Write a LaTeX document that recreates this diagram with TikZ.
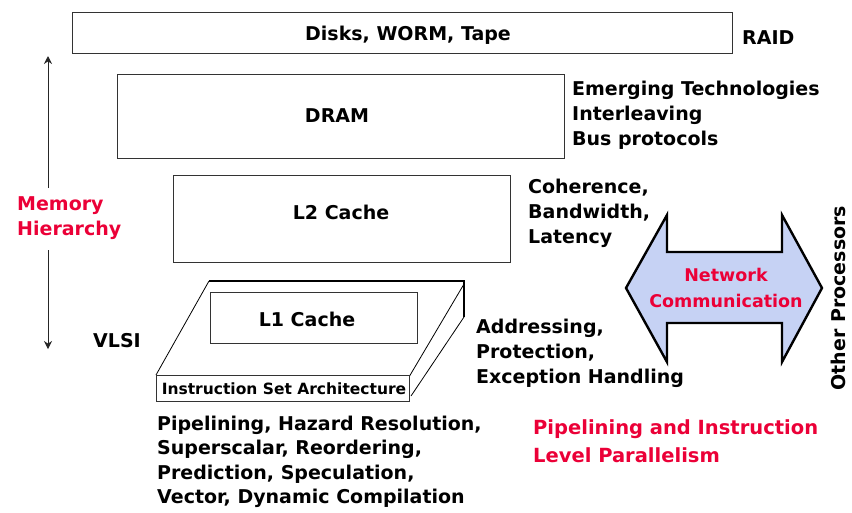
\documentclass[tikz,border=0pt]{standalone}
\usepackage{fontspec}
\setmainfont{DejaVu Sans}
\usetikzlibrary{arrows.meta}
\definecolor{hred}{RGB}{235,0,55}
\definecolor{netblue}{RGB}{198,210,244}
\begin{document}
\begin{tikzpicture}[x=1pt,y=-1pt,
  lvl/.style={draw=black!80, line width=0.9pt, inner sep=0pt},
  slab/.style={draw=black, line width=0.8pt},
  slabthick/.style={draw=black, line width=1.8pt},
  txt/.style={font=\bfseries\fontsize{19}{25}\selectfont, inner sep=0pt},
  blk/.style={txt, align=left, anchor=north west},
  redblk/.style={blk, text=hred, font=\bfseries\fontsize{19.5}{28}\selectfont},
  hier/.style={-{Stealth[length=8pt,width=8pt]}, line width=0.9pt, draw=black!85},
  net/.style={draw=black, line width=2.4pt, fill=netblue, line join=miter}]
\useasboundingbox (0,0) rectangle (852,512);

% level boxes
\node[lvl, minimum width=660pt, minimum height=41pt] (disks) at (402,32.5) {};
\node[txt, anchor=base] (diskst) at (408,40) {Disks, WORM, Tape};
\node[lvl, minimum width=447pt, minimum height=84pt] (dram) at (340.5,116) {};
\node[txt, anchor=base] (dramt) at (337,122) {DRAM};
\node[lvl, minimum width=337pt, minimum height=87pt] (l2) at (341.5,218.5) {};
\node[txt, anchor=base] (l2t) at (341,219) {L2 Cache};

% slab (L1 / ISA)
\coordinate (tl) at (209,281);
\coordinate (tr) at (464,281);
\coordinate (trm) at (464,284);
\coordinate (rb) at (464,317);
\coordinate (bl) at (156,375);
\coordinate (fr) at (409,377);
\coordinate (fb) at (411,396);
\draw[slab] (tl) -- (bl);
\draw[slabthick] (tl) -- (tr) -- (rb);
\draw[slab] (trm) -- (fr);
\draw[slab] (rb) -- (fb);
\node[lvl, fill=white, minimum width=253pt, minimum height=26pt] (isa) at (282.5,388) {};
\node[font=\bfseries\fontsize{15.5}{18}\selectfont, inner sep=0pt, anchor=base] (isat) at (284,394) {Instruction Set Architecture};
\node[lvl, minimum width=207pt, minimum height=51pt] (l1) at (313.5,317.5) {};
\node[txt, anchor=base] (l1t) at (307,326) {L1 Cache};

% right labels
\node[txt, anchor=base west] (raid) at (742,44) {RAID};
\node[blk] (emerg) at (572,81) {Emerging Technologies\\Interleaving\\Bus protocols};
\node[blk] (coher) at (528,179) {Coherence,\\Bandwidth,\\Latency};
\node[blk] (addr) at (476,319) {Addressing,\\Protection,\\Exception Handling};
\node[txt, anchor=base west] (vlsi) at (93,347) {VLSI};

% memory hierarchy arrow
\node[blk, text=hred] (memh) at (17,196) {Memory\\Hierarchy};
\coordinate (hup) at (48,188);
\coordinate (htop) at (48,56);
\coordinate (hdn) at (48,250);
\coordinate (hbot) at (48,349);
\draw[hier] (hup) -- (htop);
\draw[hier] (hdn) -- (hbot);

% bottom labels
\node[blk, font=\bfseries\fontsize{19}{24.3}\selectfont] (pipe) at (157,416) {Pipelining, Hazard Resolution,\\Superscalar, Reordering,\\Prediction, Speculation,\\Vector, Dynamic Compilation};
\node[redblk] (ilp) at (533,419) {Pipelining and Instruction\\Level Parallelism};

% network double arrow
\draw[net] (626,288) -- (667,215) -- (667,252) -- (782,252) -- (782,215) -- (822,288)
  -- (782,362) -- (782,323) -- (667,323) -- (667,362) -- cycle;
\node[font=\bfseries\fontsize{17.5}{26}\selectfont, text=hred, align=center, inner sep=0pt] (netc) at (726,288) {Network\\Communication};
\node[txt, rotate=90] (other) at (838,298) {Other Processors};
\end{tikzpicture}
\end{document}
